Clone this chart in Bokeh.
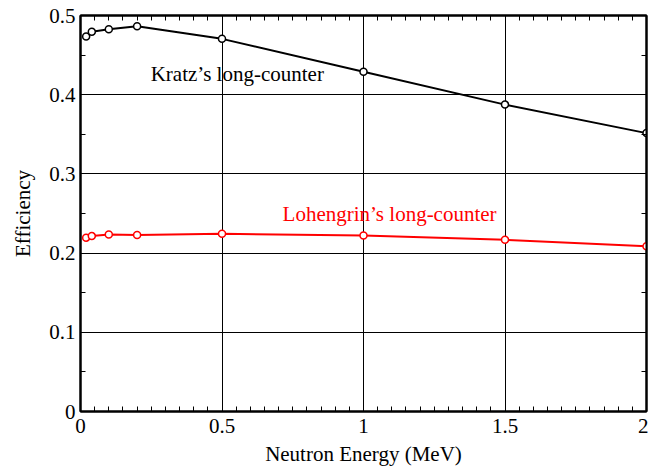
from bokeh.plotting import figure
from bokeh.models import LinearAxis, SingleIntervalTicker, Range1d, Label, Grid
from bokeh.embed import file_html
from bokeh.resources import INLINE

# Neutron energies (MeV) and detection efficiencies
energy = [0.02, 0.04, 0.1, 0.2, 0.5, 1.0, 1.5, 2.0]
kratz_eff = [0.4735, 0.4795, 0.4825, 0.4865, 0.4705, 0.429, 0.3875, 0.3515]
lohengrin_eff = [0.2195, 0.2215, 0.2235, 0.2228, 0.2244, 0.2222, 0.2168, 0.2085]

FONT = "Liberation Serif"
FS = "21px"

p = figure(width=648, height=468, output_backend="svg", toolbar_location=None,
           x_range=Range1d(0, 2), y_range=Range1d(0, 0.5),
           min_border_left=80, min_border_right=2, min_border_top=15,
           min_border_bottom=57, x_axis_type=None, y_axis_type=None)
p.background_fill_color = "white"
p.border_fill_color = "white"
p.outline_line_color = "black"
p.outline_line_width = 2

xt = SingleIntervalTicker(interval=0.5, num_minor_ticks=10)
yt = SingleIntervalTicker(interval=0.1, num_minor_ticks=2)

# grid lines at the major ticks
p.add_layout(Grid(dimension=0, ticker=xt, grid_line_color="black", grid_line_width=1))
p.add_layout(Grid(dimension=1, ticker=yt, grid_line_color="black", grid_line_width=1))


def style_axis(ax, labels=True):
    ax.axis_line_color = "black"
    ax.axis_line_width = 2
    ax.major_tick_in = 9
    ax.major_tick_out = 0
    ax.minor_tick_in = 5
    ax.minor_tick_out = 0
    ax.major_tick_line_color = "black"
    ax.minor_tick_line_color = "black"
    ax.major_tick_line_width = 1
    ax.minor_tick_line_width = 1
    ax.major_label_text_font = FONT
    ax.major_label_text_font_size = FS
    ax.major_label_text_color = "black"
    ax.axis_label_text_font = FONT
    ax.axis_label_text_font_size = FS
    ax.axis_label_text_font_style = "normal"
    ax.axis_label_text_color = "black"
    if not labels:
        ax.major_label_text_font_size = "0px"
        ax.major_label_text_alpha = 0


xb = LinearAxis(ticker=xt, axis_label="Neutron Energy (MeV)")
style_axis(xb)
xb.major_label_standoff = 7
xb.axis_label_standoff = 6
p.add_layout(xb, "below")

yl = LinearAxis(ticker=yt, axis_label="Efficiency")
style_axis(yl)
yl.major_label_standoff = 5
yl.axis_label_standoff = 11
p.add_layout(yl, "left")

xa = LinearAxis(ticker=xt)
style_axis(xa, labels=False)
xa.major_label_standoff = 0
p.add_layout(xa, "above")

yr = LinearAxis(ticker=yt)
style_axis(yr, labels=False)
yr.major_label_standoff = 0
p.add_layout(yr, "right")

# Kratz's long-counter
p.line(energy, kratz_eff, line_color="black", line_width=2)
p.scatter(energy, kratz_eff, marker="circle", size=7, fill_color="white",
          line_color="black", line_width=1.5)

# Lohengrin's long-counter
p.line(energy, lohengrin_eff, line_color="red", line_width=2)
p.scatter(energy, lohengrin_eff, marker="circle", size=7, fill_color="white",
          line_color="red", line_width=1.5)

p.add_layout(Label(x=0.248, y=0.4265, text="Kratz\u2019s long-counter",
                   text_baseline="alphabetic",
                   text_font=FONT, text_font_size=FS, text_color="black"))
p.add_layout(Label(x=0.714, y=0.2495, text="Lohengrin\u2019s long-counter",
                   text_baseline="alphabetic",
                   text_font=FONT, text_font_size=FS, text_color="red"))

open("out.html", "w").write(file_html(p, INLINE))
